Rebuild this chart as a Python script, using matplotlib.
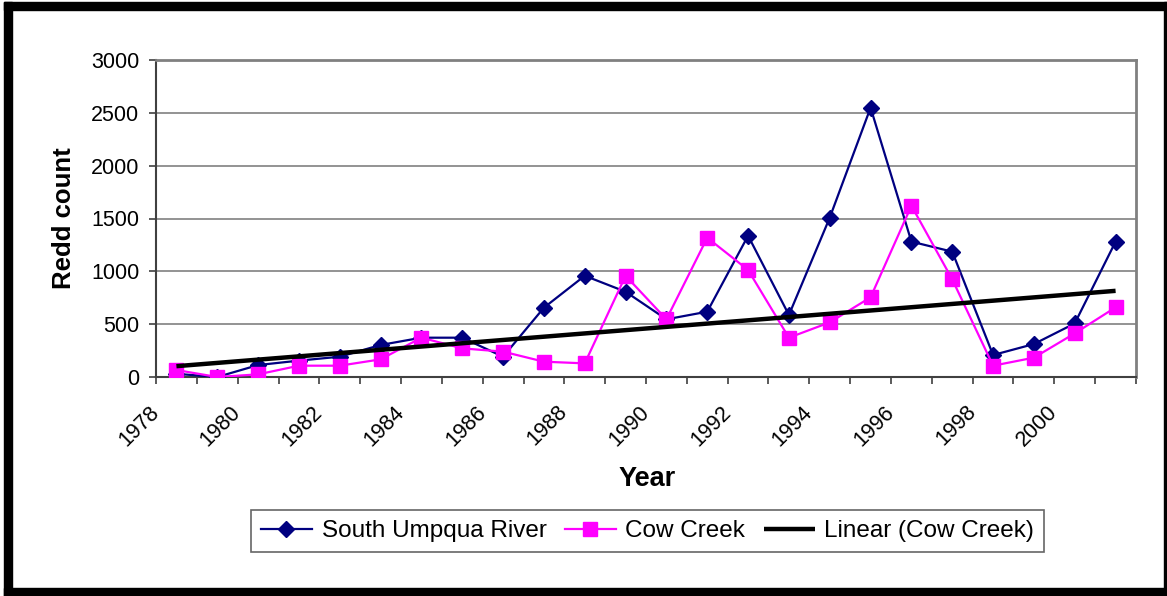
import numpy as np
import matplotlib
matplotlib.use("Agg")
import matplotlib.pyplot as plt
from matplotlib.patches import Rectangle

plt.rcParams["font.family"] = ["Liberation Sans", "DejaVu Sans"]

# Redd counts by year
years = list(range(1978, 2002))
south_umpqua = [30, 0, 113, 155, 192, 303, 372, 372, 192, 656, 958, 807,
                546, 618, 1337, 587, 1508, 2549, 1281, 1186, 208, 312, 507, 1281]
cow_creek = [66, 0, 25, 107, 107, 167, 372, 271, 240, 145, 129, 958,
             546, 1318, 1013, 372, 517, 754, 1621, 924, 107, 183, 413, 659]
tick_years = list(range(1978, 2001, 2))

W, H = 1167, 596
fig = plt.figure(figsize=(W / 100, H / 100), dpi=100)
ax = fig.add_axes([156 / W, 1 - 377 / H, (1136 - 156) / W, (377 - 60) / H])

x = np.arange(len(years))

# linear trend of Cow Creek (Excel-style trendline)
coef = np.polyfit(x, cow_creek, 1)
trend = np.polyval(coef, x)

ax.plot(x, south_umpqua, color="#000080", lw=1.6, marker="D", ms=8,
        mec="#000080", mfc="#000080", label="South Umpqua River", zorder=3)
ax.plot(x, cow_creek, color="#FF00FF", lw=1.6, marker="s", ms=10,
        mec="#FF00FF", mfc="#FF00FF", label="Cow Creek", zorder=4)
ax.plot(x, trend, color="black", lw=3.2, label="Linear (Cow Creek)", zorder=5,
        solid_capstyle="butt")

ax.set_xlim(-0.5, len(years) - 0.5)
ax.set_ylim(0, 3000)
ax.set_yticks(np.arange(0, 3001, 500))
ax.tick_params(axis="y", labelsize=15.5, length=5, width=1.2, color="#404040", pad=7)
ax.yaxis.grid(True, color="#808080", lw=1.2)
ax.set_axisbelow(True)

boundaries = np.arange(-0.5, len(years), 1.0)
ax.set_xticks(boundaries, minor=True)
ax.set_xticks([years.index(y) - 0.5 for y in tick_years])
ax.set_xticklabels([str(y) for y in tick_years], rotation=45, ha="right",
                   va="center", rotation_mode="anchor")
ax.tick_params(axis="x", which="both", length=5, width=1.2, color="#404040")
ax.tick_params(axis="x", which="major", labelsize=15.5, pad=18)
for lbl in ax.get_xticklabels():
    lbl.set_x(lbl.get_position()[0])

for side in ["left", "bottom"]:
    ax.spines[side].set_color("#404040")
    ax.spines[side].set_linewidth(1.5)
for side in ["top", "right"]:
    ax.spines[side].set_color("#808080")
    ax.spines[side].set_linewidth(2)

fig.text(64 / W, 1 - 218 / H, "Redd count", fontsize=18.5, fontweight="bold",
         rotation=90, ha="center", va="center")
fig.text(647 / W, 1 - 479 / H, "Year", fontsize=19.5, fontweight="bold",
         ha="center", va="center")

leg = fig.legend(loc="center", bbox_to_anchor=(647.5 / W, 1 - 531 / H), ncol=3,
                 fontsize=17.5, frameon=True, fancybox=False, edgecolor="#404040",
                 handlelength=2.1, handletextpad=0.4, columnspacing=0.75,
                 borderpad=0.4)
leg.get_frame().set_linewidth(1.2)

# chart-area border (thick left/top/bottom, thin right)
for (x0, y0, w, h) in [(4, 2, 8, 594), (4, 2, 1163, 8), (4, 588, 1163, 8), (1164, 2, 3, 594)]:
    fig.patches.append(Rectangle((x0 / W, 1 - (y0 + h) / H), w / W, h / H,
                                 transform=fig.transFigure, color="black", zorder=10))

fig.savefig("out.png", dpi=100)
